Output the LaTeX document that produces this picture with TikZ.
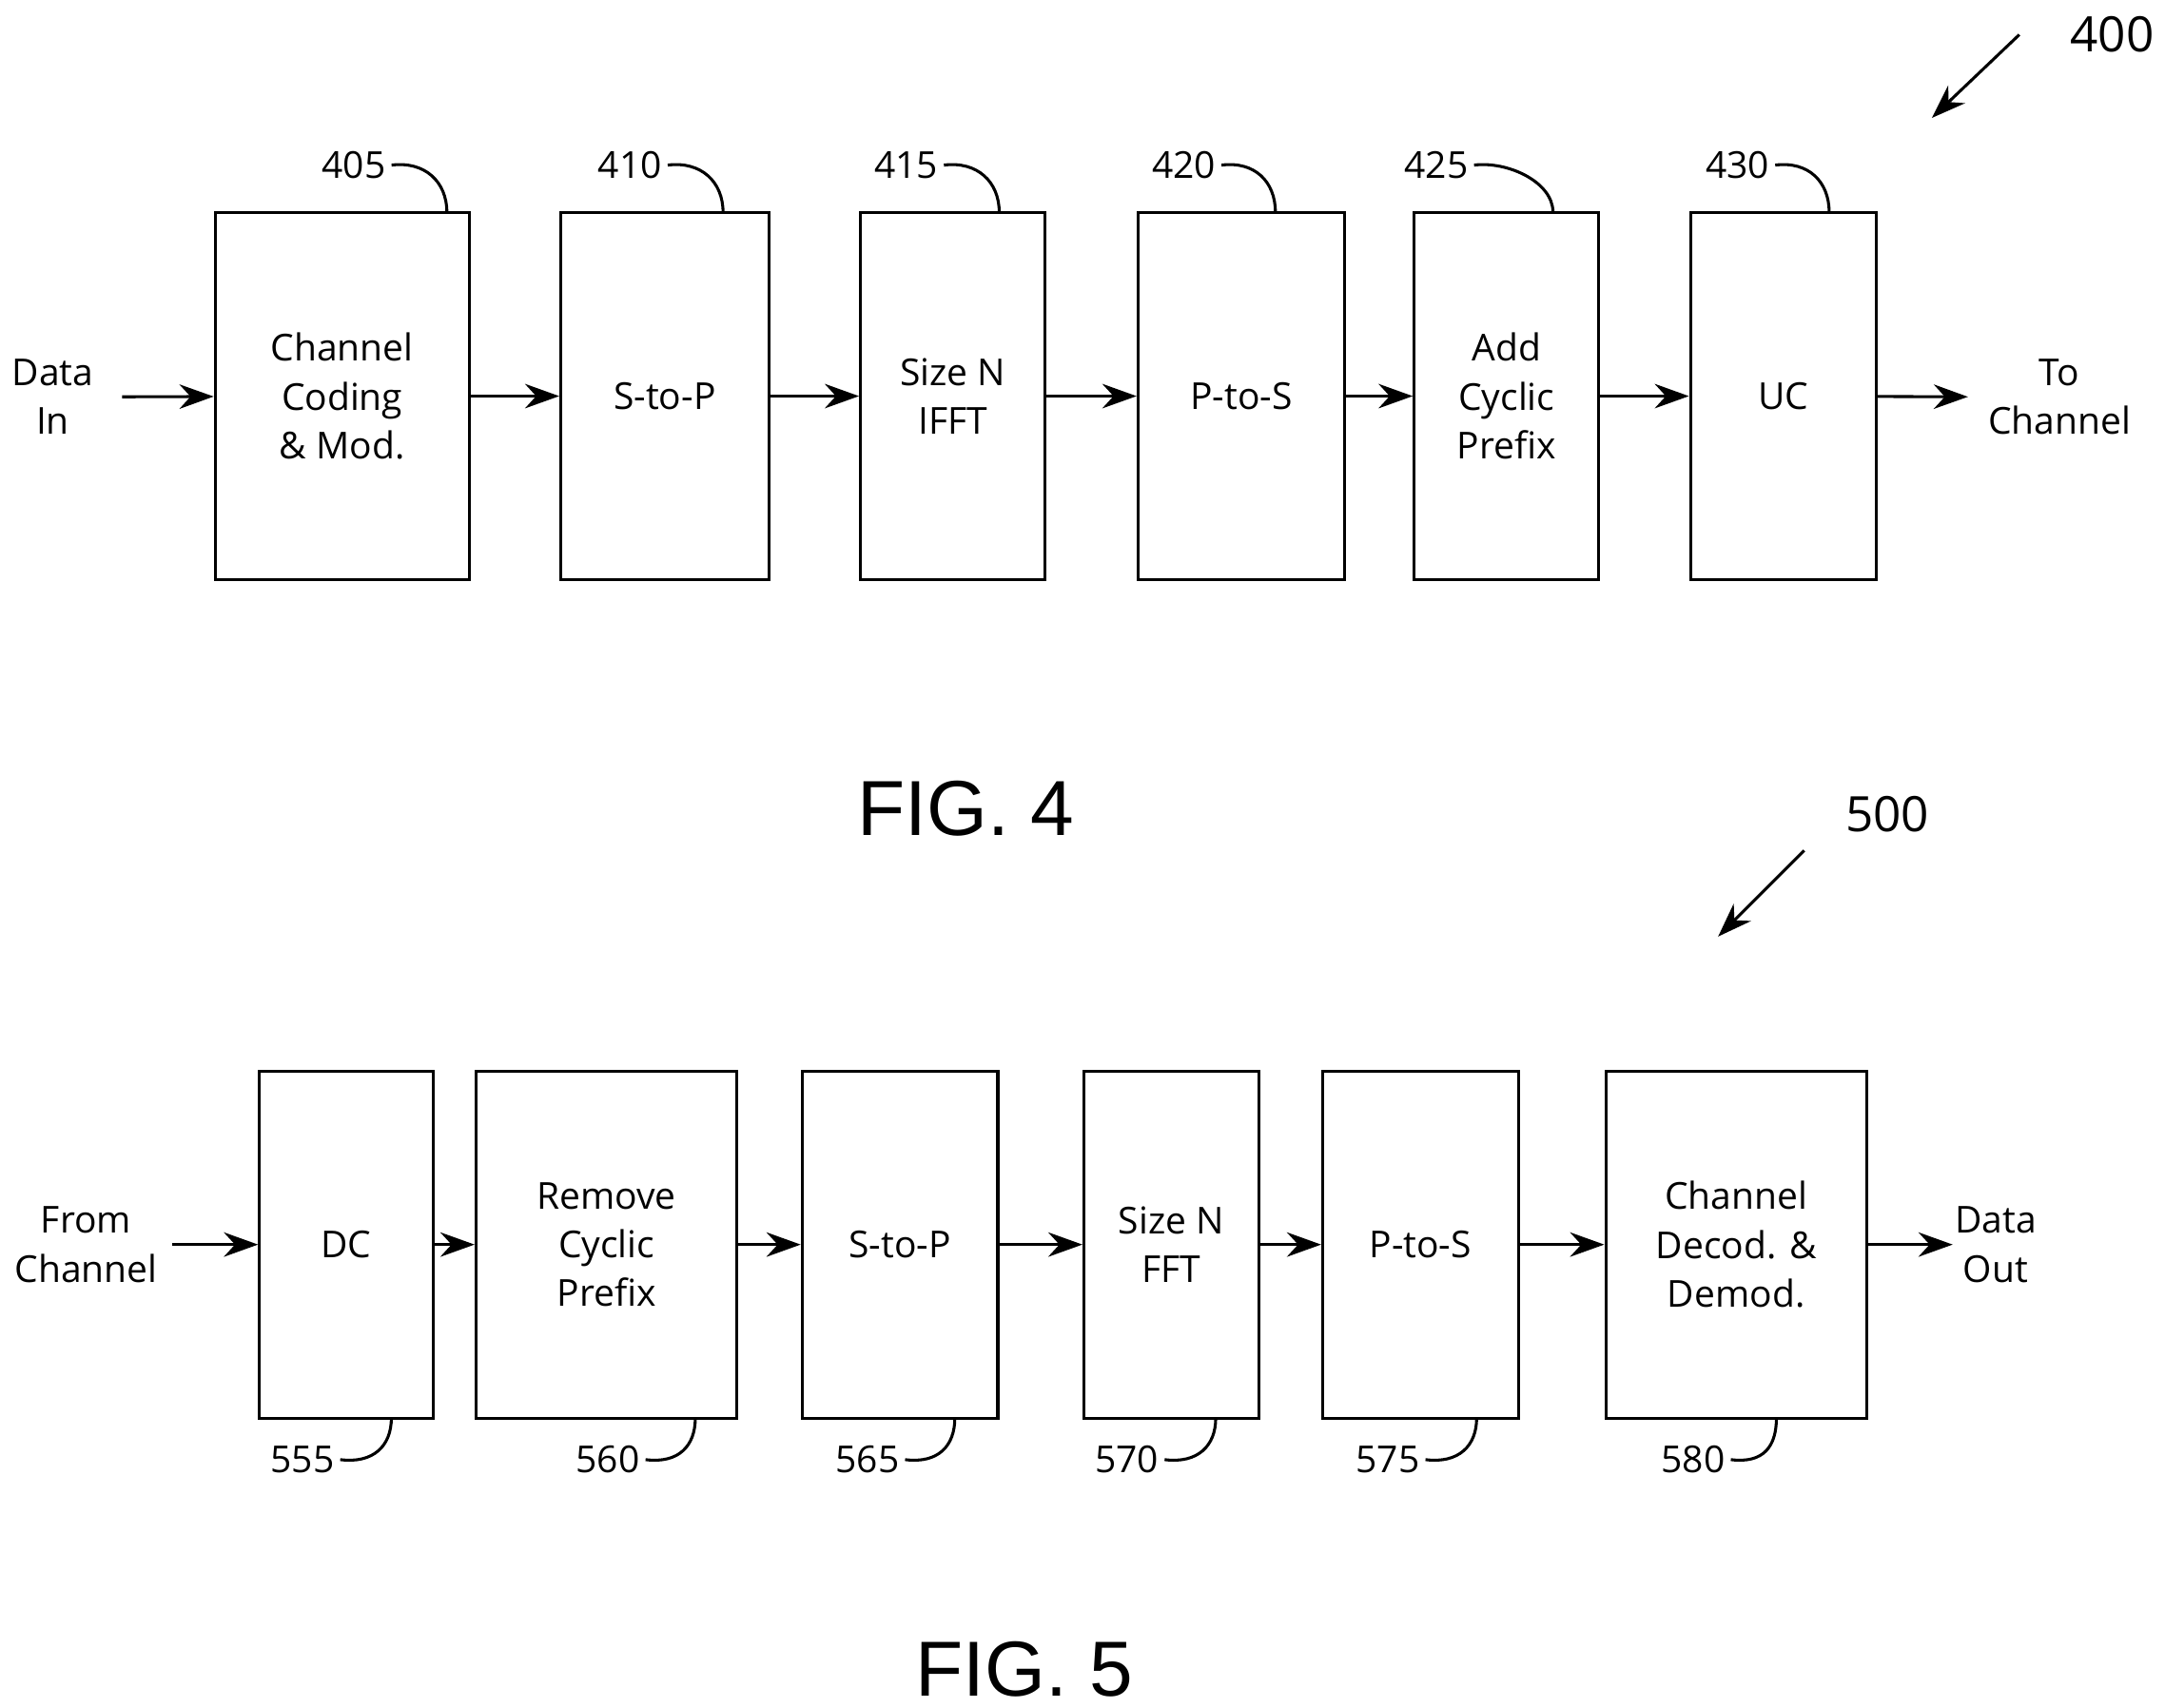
\documentclass[tikz,border=0pt]{standalone}
\usepackage{fontspec}
\setmainfont{Open Sans}
\newfontfamily\figfont{Liberation Sans}
\usetikzlibrary{arrows.meta,calc,positioning}
\tikzset{
  blk/.style={draw, semithick, minimum height=2.65cm, align=center, inner sep=0pt},
  blk5/.style={draw, semithick, minimum height=2.5cm, align=center, inner sep=0pt},
  io/.style={align=center, inner sep=0pt},
  num/.style={inner sep=1pt},
  sig/.style={-{Stealth[length=7pt,width=5pt]}, semithick},
  tag/.style={semithick},
  fig/.style={font=\fontsize{16}{19}\selectfont\figfont}
}
\begin{document}
\begin{tikzpicture}[x=0.01cm, y=-0.01cm, font=\fontsize{7.6}{10}\selectfont]
\useasboundingbox (0,0) rectangle (1560,1231);
% FIG. 4
\foreach \id/\xa/\xb/\lx/\ex/\txt in {405/155/338/255/322/{Channel\\Coding\\\& Mod.}, 410/404/554/454/521/{S-to-P},
    415/620/753/653/720/{Size N\\IFFT}, 420/820/969/853/919/{P-to-S}, 425/1019/1152/1035/1119/{Add\\Cyclic\\Prefix},
    430/1218/1352/1252/1318/{UC}}{
  \node[blk, minimum width={(\xb-\xa)*0.01cm}] (b\id) at ({(\xa+\xb)/2},285.5) {\txt};
  \node[num] (l\id) at (\lx,119) {\id};
  \coordinate (t\id) at (\ex,153);
  \draw[tag] (l\id.east) .. controls +(24,-3) and +(0,-22) .. (t\id);
}
\node[io] (din) at (38,286) {Data\\In};
\node[io] (tch) at (1484,286) {To\\Channel};
\coordinate (dinE) at (88,286);
\coordinate (tchW) at (1418,286);
\draw[sig] (dinE) -- (b405);
\draw[sig] (b405) -- (b410);
\draw[sig] (b410) -- (b415);
\draw[sig] (b415) -- (b420);
\draw[sig] (b420) -- (b425);
\draw[sig] (b425) -- (b430);
\draw[sig] (b430) -- (tchW);
\node[fig] (f4) at (696,583) {FIG. 4};
\node[num, font=\fontsize{10}{12}\selectfont] (n400) at (1522,25) {400};
\coordinate (a400) at (1455,25);
\draw[sig] (a400) -- (1392,85);
% FIG. 5
\foreach \id/\xa/\xb/\lx/\ex/\txt in {555/187/312/218/282/{DC}, 560/343/531/438/501/{Remove\\Cyclic\\Prefix},
    565/578/719/625/688/{S-to-P}, 570/781/907/812/876/{Size N\\FFT}, 575/953/1094/1000/1064/{P-to-S},
    580/1157/1345/1220/1280/{Channel\\Decod. \&\\Demod.}}{
  \node[blk5, minimum width={(\xb-\xa)*0.01cm}] (b\id) at ({(\xa+\xb)/2},897) {\txt};
  \node[num] (l\id) at (\lx,1052) {\id};
  \coordinate (t\id) at (\ex,1022);
  \draw[tag] (l\id.east) .. controls +(24,3) and +(0,20) .. (t\id);
}
\node[io] (fch) at (62,897) {From\\Channel};
\node[io] (dout) at (1438,897) {Data\\Out};
\coordinate (fchE) at (124,897);
\coordinate (doutW) at (1407,897);
\draw[sig] (fchE) -- (b555);
\draw[sig] (b555) -- (b560);
\draw[sig] (b560) -- (b565);
\draw[sig] (b565) -- (b570);
\draw[sig] (b570) -- (b575);
\draw[sig] (b575) -- (b580);
\draw[sig] (b580) -- (doutW);
\node[fig] (f5) at (738,1203) {FIG. 5};
\node[num, font=\fontsize{10}{12}\selectfont] (n500) at (1360,587) {500};
\coordinate (a500) at (1300,613);
\draw[sig] (a500) -- (1238,675);
\end{tikzpicture}
\end{document}
